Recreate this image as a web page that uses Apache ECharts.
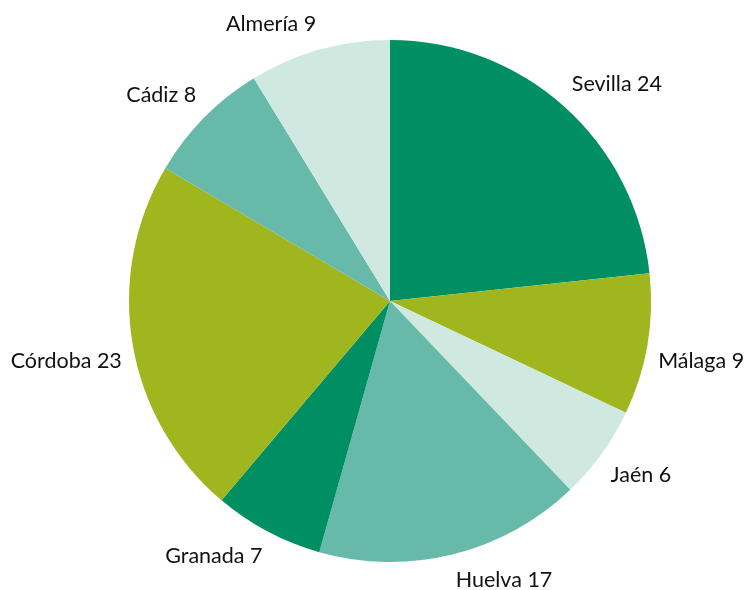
<!DOCTYPE html>
<html><head><meta charset="utf-8">
<script src="https://cdn.jsdelivr.net/npm/echarts@6/dist/echarts.min.js"></script>
<style>html,body{margin:0;padding:0;background:#fff}#c{width:750px;height:590px}</style>
</head><body><div id="c"></div>
<script>
const provinces = ["Sevilla","Málaga","Jaén","Huelva","Granada","Córdoba","Cádiz","Almería"];
const counts = [24, 9, 6, 17, 7, 23, 8, 9];
const colors = ["#008f63","#a0b61f","#cfe9e1","#67baa9","#008f63","#a0b61f","#67baa9","#cfe9e1"];

const chart = echarts.init(document.getElementById('c'));
chart.setOption({
  animation: false,
  series: [{
    type: 'pie',
    center: [390, 301],
    radius: [0, 261],
    startAngle: 90,
    clockwise: true,
    avoidLabelOverlap: false,
    data: provinces.map((p, i) => ({ name: p, value: counts[i], itemStyle: { color: colors[i] } })),
    label: {
      show: true,
      position: 'outside',
      formatter: '{b} {c}',
      fontFamily: 'Lato',
      fontSize: 21.5,
      lineHeight: 30,
      color: '#111'
    },
    labelLine: { show: true, length: 11, length2: 0, lineStyle: { opacity: 0 } },
    labelLayout: function (params) {
      const pts = params.labelLinePoints;
      if (!pts) return {};
      const s = pts[0], e = pts[pts.length - 1];
      const dx = e[0] - s[0], dy = e[1] - s[1];
      return {
        x: e[0], y: e[1],
        align: dx >= 0 ? 'left' : 'right',
        verticalAlign: dy >= 0 ? 'top' : 'bottom'
      };
    }
  }]
});
</script></body></html>
